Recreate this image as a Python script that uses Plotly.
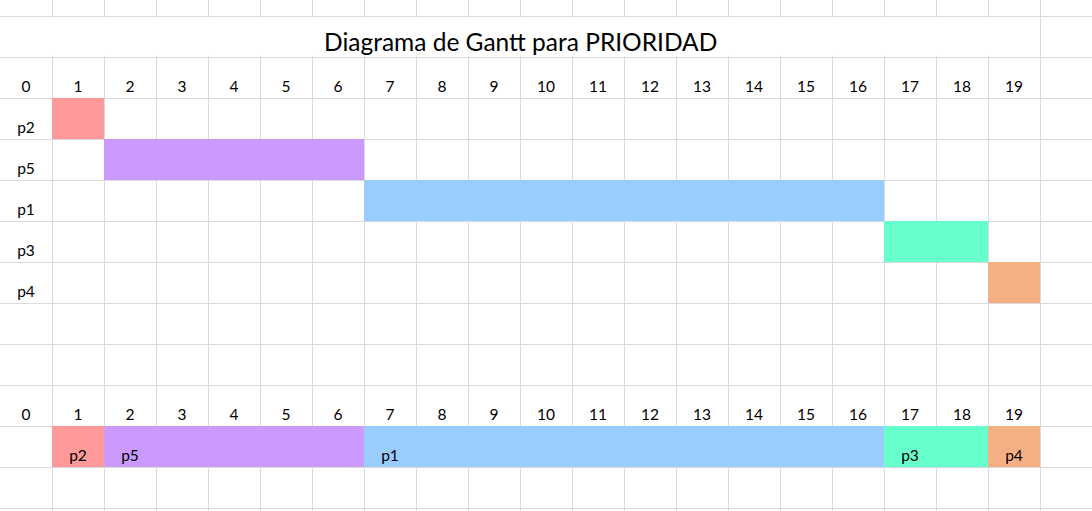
import plotly.graph_objects as go

# ---- data ----
processes = ["p2", "p5", "p1", "p3", "p4"]
starts = [0, 1, 6, 16, 18]
durations = [1, 5, 10, 2, 1]
colors = ["#FF9999", "#CC99FF", "#99CCFF", "#66FFCC", "#F4B084"]
time_labels = [str(i) for i in range(20)]
title_text = "Diagrama de Gantt para PRIORIDAD"

# ---- layout geometry (spreadsheet grid: columns / rows) ----
N_COLS = 21
HEADER_ROW_1 = 1
FIRST_PROC_ROW = 2
HEADER_ROW_2 = 9
SUMMARY_ROW = 10
TEXT_FRAC = 0.76
FONT = "Lato"
GRID = "#dadada"

fig = go.Figure()

# individual rows
for i, (p, s, d, c) in enumerate(zip(processes, starts, durations, colors)):
    fig.add_trace(go.Bar(
        orientation="h", y=[FIRST_PROC_ROW + i + 0.5], x=[d], base=[s + 1],
        width=1, marker=dict(color=c, line=dict(width=0)), showlegend=False,
        hoverinfo="skip"))
# summary row
for p, s, d, c in zip(processes, starts, durations, colors):
    fig.add_trace(go.Bar(
        orientation="h", y=[SUMMARY_ROW + 0.5], x=[d], base=[s + 1],
        width=1, marker=dict(color=c, line=dict(width=0)), showlegend=False,
        hoverinfo="skip"))

fig.update_layout(barmode="overlay")

# header numbers (two header rows)
for hr in (HEADER_ROW_1, HEADER_ROW_2):
    fig.add_trace(go.Scatter(
        x=[i + 0.5 for i in range(len(time_labels))],
        y=[hr + TEXT_FRAC] * len(time_labels),
        mode="text", text=time_labels, textposition="middle center",
        textfont=dict(family=FONT, size=15.5, color="#000000"),
        showlegend=False, hoverinfo="skip"))

# process labels on the left column
fig.add_trace(go.Scatter(
    x=[0.5] * len(processes),
    y=[FIRST_PROC_ROW + i + TEXT_FRAC for i in range(len(processes))],
    mode="text", text=processes, textposition="middle center",
    textfont=dict(family=FONT, size=15.5, color="#000000"),
    showlegend=False, hoverinfo="skip"))

# process labels in the summary row
fig.add_trace(go.Scatter(
    x=[s + 1.5 for s in starts],
    y=[SUMMARY_ROW + TEXT_FRAC] * len(processes),
    mode="text", text=processes, textposition="middle center",
    textfont=dict(family=FONT, size=15.5, color="#000000"),
    showlegend=False, hoverinfo="skip"))

# merged title cell: hide inner grid lines
fig.add_shape(type="rect", xref="x", yref="y", x0=0.02, x1=19.98, y0=0.03, y1=0.97,
              fillcolor="white", line=dict(width=0), layer="between")

fig.add_annotation(x=10, y=0.62, xref="x", yref="y", text=title_text, showarrow=False,
                   font=dict(family=FONT, size=24.5, color="#000000"),
                   xanchor="center", yanchor="middle")

fig.update_xaxes(range=[0, N_COLS], showgrid=True, gridcolor=GRID, gridwidth=1,
                 dtick=1, tick0=0, showticklabels=False, zeroline=False,
                 showline=False, ticks="")
fig.update_yaxes(range=[(511 - 16) / 41, -16 / 41], showgrid=True, gridcolor=GRID,
                 gridwidth=1, dtick=1, tick0=0, showticklabels=False,
                 zeroline=False, showline=False, ticks="")

fig.update_layout(width=1092, height=511, margin=dict(l=0, r=0, t=0, b=0),
                  paper_bgcolor="white", plot_bgcolor="white")

fig.write_html("out.html")
